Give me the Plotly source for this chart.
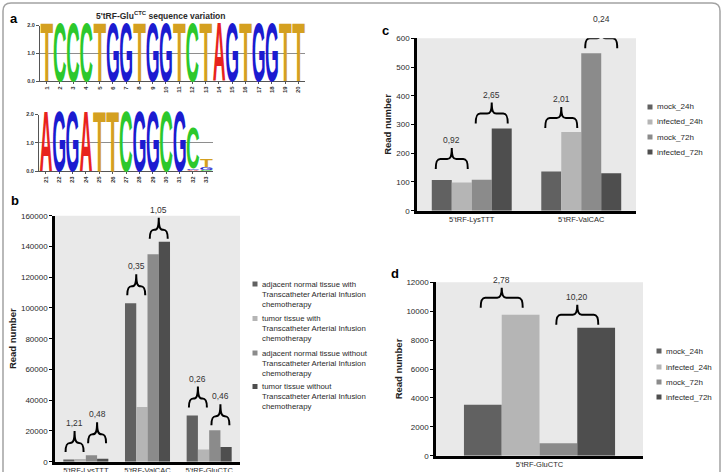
import json
import plotly.graph_objects as go

W, H = 723, 472


def px(v):
    return v / W


def py(v):
    return 1 - v / H


# ---------------- data ----------------
logo1_positions = [1, 2, 3, 4, 5, 6, 7, 8, 9, 10, 11, 12, 13, 14, 15, 16, 17, 18, 19, 20]
logo1_letters = ["T", "C", "C", "C", "T", "G", "G", "T", "G", "G",
                 "T", "C", "T", "A", "G", "T", "G", "G", "T", "T"]
logo1_bits = [2.0, 2.0, 2.0, 2.0, 2.0, 2.0, 2.0, 2.0, 2.0, 2.0,
              2.0, 2.0, 2.0, 2.0, 2.0, 2.0, 2.0, 2.0, 2.0, 2.0]

logo2_positions = [21, 22, 23, 24, 25, 26, 27, 28, 29, 30, 31, 32, 33]
logo2_letters = [["A"], ["G"], ["G"], ["A"], ["T"], ["T"], ["C"], ["G"], ["G"], ["C"], ["G"],
                 ["A", "G", "C"], ["C", "G", "T"]]
logo2_bits = [[2.0], [2.0], [2.0], [2.0], [2.0], [2.0], [2.0], [2.0], [2.0], [2.0], [2.0],
              [0.05, 0.05, 1.35], [0.05, 0.09, 0.27]]

b_categories = ["5'tRF-LysTTT", "5'tRF-ValCAC", "5'tRF-GluCTC"]
b_series = ["adjacent normal tissue with<br>Transcatheter Arterial Infusion<br>chemotherapy",
            "tumor tissue with<br>Transcatheter Arterial Infusion<br>chemotherapy",
            "adjacent normal tissue without<br>Transcatheter Arterial Infusion<br>chemotherapy",
            "tumor tissue without<br>Transcatheter Arterial Infusion<br>chemotherapy"]
b_adj_with = [1500, 103000, 30000]
b_tumor_with = [1800, 35500, 8000]
b_adj_without = [4200, 135000, 20500]
b_tumor_without = [2000, 143000, 9500]
b_ratios = [["1,21", "0,48"], ["0,35", "1,05"], ["0,26", "0,46"]]

cd_series = ["mock_24h", "infected_24h", "mock_72h", "infected_72h"]
c_categories = ["5'tRF-LysTTT", "5'tRF-ValCAC"]
c_mock_24h = [107, 136]
c_infected_24h = [98, 274]
c_mock_72h = [108, 548]
c_infected_72h = [286, 130]
c_ratios = [["0,92", "2,65"], ["2,01", "0,24"]]

d_categories = ["5'tRF-GluCTC"]
d_mock_24h = [3520]
d_infected_24h = [9750]
d_mock_72h = [870]
d_infected_72h = [8850]
d_ratios = [["2,78", "10,20"]]

# ---------------- style ----------------
FONT = "Liberation Sans, Arial, sans-serif"
TXT = "#2a2a2a"
LETTER_COLORS = {"A": "#e8231d", "C": "#2cc82c", "G": "#1b1bd0", "T": "#d4a020"}
BAR_COLORS = ["#616161", "#b5b5b5", "#8b8b8b", "#4e4e4e"]
PANEL_BG = "#e9e9e9"
BAR_GAP = 0.27

fig = go.Figure()
annotations = []
shapes = []
letter_specs = []

# ---------------- sequence logos (panel a) ----------------
def add_logo(positions, stacks, heights, xa, ya):
    for pos, lets, hs in zip(positions, stacks, heights):
        y0 = 0.0
        for let, h in zip(lets, hs):
            idx = len(annotations)
            annotations.append(dict(
                x=pos, y=y0, xref=xa, yref=ya, text=let, showarrow=False,
                xanchor="center", yanchor="bottom",
                font=dict(family="Liberation Sans", size=30, color=LETTER_COLORS[let], weight="bold")))
            letter_specs.append(dict(i=idx, xa="xaxis" + xa[1:], ya="yaxis" + ya[1:],
                                     x=pos, y0=y0, y1=y0 + h, hw=0.47))
            y0 += h


add_logo(logo1_positions, [[l] for l in logo1_letters], [[h] for h in logo1_bits], "x", "y")
add_logo(logo2_positions, logo2_letters, logo2_bits, "x2", "y2")

# ---------------- bar panels ----------------
b_vals = [b_adj_with, b_tumor_with, b_adj_without, b_tumor_without]
c_vals = [c_mock_24h, c_infected_24h, c_mock_72h, c_infected_72h]
d_vals = [d_mock_24h, d_infected_24h, d_mock_72h, d_infected_72h]

for vals, name, col in zip(b_vals, b_series, BAR_COLORS):
    fig.add_trace(go.Bar(x=list(range(len(b_categories))), y=vals, name=name,
                         marker=dict(color=col, line=dict(width=0)),
                         xaxis="x3", yaxis="y3", showlegend=False))
for vals, name, col in zip(c_vals, cd_series, BAR_COLORS):
    fig.add_trace(go.Bar(x=list(range(len(c_categories))), y=vals, name=name,
                         marker=dict(color=col, line=dict(width=0)),
                         xaxis="x4", yaxis="y4", showlegend=False))
for vals, name, col in zip(d_vals, cd_series, BAR_COLORS):
    fig.add_trace(go.Bar(x=list(range(len(d_categories))), y=vals, name=name,
                         marker=dict(color=col, line=dict(width=0)),
                         xaxis="x5", yaxis="y5", showlegend=False))

# gray plot backgrounds
for n in ["3", "4", "5"]:
    shapes.append(dict(type="rect", xref="x%s domain" % n, yref="y%s domain" % n,
                       x0=0, x1=1, y0=0, y1=1, fillcolor=PANEL_BG, line=dict(width=0), layer="below"))


def brace_path(hw, g, r1, s, c=4.5):
    yh = g + r1
    yt = g + r1 + s
    return ("M %g,%g C %g,%g %g,%g %g,%g L %g,%g C %g,%g %g,%g %g,%g "
            "M %g,%g C %g,%g %g,%g %g,%g L %g,%g C %g,%g %g,%g %g,%g") % (
        -hw, g, -hw, g + r1 * 0.75, -hw + 1.2, yh, -hw + c, yh, -c, yh,
        -1.5, yh, 0, yh + 2, 0, yt,
        0, yt, 0, yh + 2, 1.5, yh, c, yh, hw - c, yh,
        hw - 1.2, yh, hw, g + r1 * 0.75, hw, g)


half_pair = (1 - BAR_GAP) / 4


def add_braces(xa, ya, vals, ratios, hw, gaps, r1, s):
    k = 0
    for ci, pair_labels in enumerate(ratios):
        for pj, lab in enumerate(pair_labels):
            a, b = vals[2 * pj][ci], vals[2 * pj + 1][ci]
            xc = ci + (-1 if pj == 0 else 1) * half_pair
            ytop = max(a, b)
            g = gaps[k]
            k += 1
            shapes.append(dict(type="path", xref=xa, yref=ya, xsizemode="pixel", ysizemode="pixel",
                               xanchor=xc, yanchor=ytop, path=brace_path(hw, g, r1, s),
                               line=dict(color="black", width=2)))
            annotations.append(dict(x=xc, y=ytop, xref=xa, yref=ya, yshift=g + r1 + s + 8,
                                    text=lab, showarrow=False, xanchor="center", yanchor="middle",
                                    font=dict(size=8.5, color="#333333", family=FONT)))


add_braces("x3", "y3", b_vals, b_ratios, 9, [7, 12, 8, 3, 8, 5], 9, 12)
add_braces("x4", "y4", c_vals, c_ratios, 16, [11, 5, 4, 5], 10, 11)
add_braces("x5", "y5", d_vals, d_ratios, 21, [7, 3], 10, 10)

# ---------------- manual legends ----------------
def add_legend(names, sq_x, txt_x, first_centers, fs, multiline):
    for name, col, yc in zip(names, BAR_COLORS, first_centers):
        shapes.append(dict(type="rect", xref="paper", yref="paper",
                           x0=px(sq_x - 2.5), x1=px(sq_x + 2.5), y0=py(yc + 2.5), y1=py(yc - 2.5),
                           fillcolor=col, line=dict(width=0)))
        if multiline:
            annotations.append(dict(x=px(txt_x), y=py(yc - 0.65 * fs - 1), xref="paper", yref="paper",
                                    text=name, showarrow=False, xanchor="left", yanchor="top", align="left",
                                    font=dict(size=fs, color=TXT, family=FONT)))
        else:
            annotations.append(dict(x=px(txt_x), y=py(yc), xref="paper", yref="paper",
                                    text=name, showarrow=False, xanchor="left", yanchor="middle", align="left",
                                    font=dict(size=fs, color=TXT, family=FONT)))


add_legend(b_series, 255, 260, [284, 318.5, 353, 386.5], 7.8, True)
add_legend(cd_series, 650, 655, [107, 122, 137, 152], 8, False)
add_legend(cd_series, 659, 664, [351, 367, 382, 397], 8, False)

# panel letters and logo title
for lab, xx, yy in [("a", 14, 18), ("b", 15, 200), ("c", 385, 30), ("d", 395, 273)]:
    annotations.append(dict(x=px(xx), y=py(yy), xref="paper", yref="paper", text=lab, showarrow=False,
                            xanchor="center", yanchor="middle",
                            font=dict(size=13, color="black", family=FONT, weight="bold")))
annotations.append(dict(x=px(160), y=py(15), xref="paper", yref="paper",
                        text="5'tRF-Glu<sup>CTC</sup> sequence variation", showarrow=False,
                        xanchor="center", yanchor="middle",
                        font=dict(size=8.5, color=TXT, family=FONT, weight="bold")))

# outer frame
shapes.append(dict(type="path", xref="paper", yref="paper", xsizemode="pixel", ysizemode="pixel",
                   xanchor=0, yanchor=1,
                   path="M 3,-500 L 3,-11 Q 3,-3 11,-3 L 712,-3 Q 720,-3 720,-11 L 720,-500",
                   line=dict(color="#a3a3a3", width=1.5)))

# ---------------- axes ----------------
def logo_x(domain, rng, ticks_pos, anchor):
    return dict(domain=domain, range=rng, tickmode="array", tickvals=ticks_pos,
                ticktext=["%d" % p for p in ticks_pos], tickangle=-90,
                tickfont=dict(size=6, color="#333333", family=FONT, weight="bold"),
                ticks="outside", ticklen=2, tickcolor="#555555", showline=True, linecolor="#555555",
                linewidth=1, showgrid=False, zeroline=False, anchor=anchor, fixedrange=True)


def logo_y(domain, anchor):
    return dict(domain=domain, range=[0, 2], tickmode="array", tickvals=[0, 1, 2],
                ticktext=["0.0", "1.0", "2.0"], tickfont=dict(size=5.5, color="#333333", family=FONT, weight="bold"),
                ticks="outside", ticklen=3, tickcolor="#555555", showline=True, linecolor="#555555",
                linewidth=1, showgrid=True, gridcolor="#8e8e8e", gridwidth=1, zeroline=False,
                anchor=anchor, fixedrange=True)


def bar_x(domain, cats, anchor):
    return dict(domain=domain, range=[-0.5, len(cats) - 0.5], tickmode="array",
                tickvals=list(range(len(cats))), ticktext=cats, ticks="",
                tickfont=dict(size=7.5, color=TXT, family=FONT), showline=True, linecolor="black",
                linewidth=2.5, showgrid=False, zeroline=False, anchor=anchor, fixedrange=True)


def bar_y(domain, top, dtick, anchor):
    return dict(domain=domain, range=[0, top], tickmode="linear", tick0=0, dtick=dtick, tickformat="d",
                ticks="outside", ticklen=3, tickwidth=1, tickcolor="black",
                tickfont=dict(size=8, color=TXT, family=FONT), showline=True, linecolor="black",
                linewidth=2.5, showgrid=False, zeroline=False, anchor=anchor, fixedrange=True,
                title=dict(text="Read number", standoff=3,
                           font=dict(size=9.5, color="#222222", family=FONT, weight="bold")))


fig.update_layout(
    width=W, height=H, margin=dict(l=0, r=0, t=0, b=0),
    paper_bgcolor="white", plot_bgcolor="rgba(0,0,0,0)",
    template="none", showlegend=False, barmode="group", bargap=BAR_GAP, bargroupgap=0,
    font=dict(family=FONT, size=8, color=TXT),
    xaxis=logo_x([px(40), px(305)], [0.5, 20.5], logo1_positions, "y"),
    yaxis=logo_y([py(81), py(25.5)], "x"),
    xaxis2=logo_x([px(39), px(213)], [20.5, 33.5], logo2_positions, "y2"),
    yaxis2=logo_y([py(171), py(114.5)], "x2"),
    xaxis3=bar_x([px(55), px(240)], b_categories, "y3"),
    yaxis3=bar_y([py(461.7), py(215.7)], 160000, 20000, "x3"),
    xaxis4=bar_x([px(417), px(636)], c_categories, "y4"),
    yaxis4=bar_y([py(210.7), py(38.3)], 600, 100, "x4"),
    xaxis5=bar_x([px(436), px(643)], d_categories, "y5"),
    yaxis5=bar_y([py(455.7), py(282.3)], 12000, 2000, "x5"),
    annotations=annotations, shapes=shapes,
)

post_script = """
(function(){
  var gd = document.getElementById('{plot_id}');
  if(!gd || !gd._fullLayout) return;
  var L = gd._fullLayout;
  var specs = SPECS;
  var svg = gd.querySelector('svg.main-svg');
  var sr = svg.getBoundingClientRect();
  var ctx = document.createElement('canvas').getContext('2d');
  specs.forEach(function(d){
    var g = gd.querySelector('g.annotation[data-index="' + d.i + '"]');
    if(!g) return;
    var t = g.querySelector('text.annotation-text') || g.querySelector('text');
    if(!t) return;
    var ax = L[d.xa], ay = L[d.ya];
    var X0 = sr.left + ax._offset + ax.l2p(d.x - d.hw);
    var X1 = sr.left + ax._offset + ax.l2p(d.x + d.hw);
    var Yb = sr.top + ay._offset + ay.l2p(d.y0);
    var Yt = sr.top + ay._offset + ay.l2p(d.y1);
    var cs = window.getComputedStyle(t);
    ctx.font = cs.fontWeight + ' ' + cs.fontSize + ' ' + cs.fontFamily;
    var m = ctx.measureText(t.textContent);
    var r = t.getBoundingClientRect();
    var fs = parseFloat(cs.fontSize);
    var asc = (m.fontBoundingBoxAscent !== undefined) ? m.fontBoundingBoxAscent : 0.905 * fs;
    var base = r.top + asc;
    var gl = r.left - m.actualBoundingBoxLeft;
    var gr = r.left + m.actualBoundingBoxRight;
    var gt = base - m.actualBoundingBoxAscent;
    var gb = base + m.actualBoundingBoxDescent;
    if(gr - gl <= 0 || gb - gt <= 0) return;
    var sx = (X1 - X0) / (gr - gl);
    var sy = (Yb - Yt) / (gb - gt);
    var M = t.parentNode.getScreenCTM();
    var tx = (X0 - M.e) - sx * (gl - M.e);
    var ty = (Yb - M.f) - sy * (gb - M.f);
    var prev = t.getAttribute('transform') || '';
    t.setAttribute('transform', 'translate(' + tx + ',' + ty + ') scale(' + sx + ',' + sy + ') ' + prev);
  });
})();
""".replace("SPECS", json.dumps(letter_specs))

fig.write_html("out.html", post_script=post_script)
